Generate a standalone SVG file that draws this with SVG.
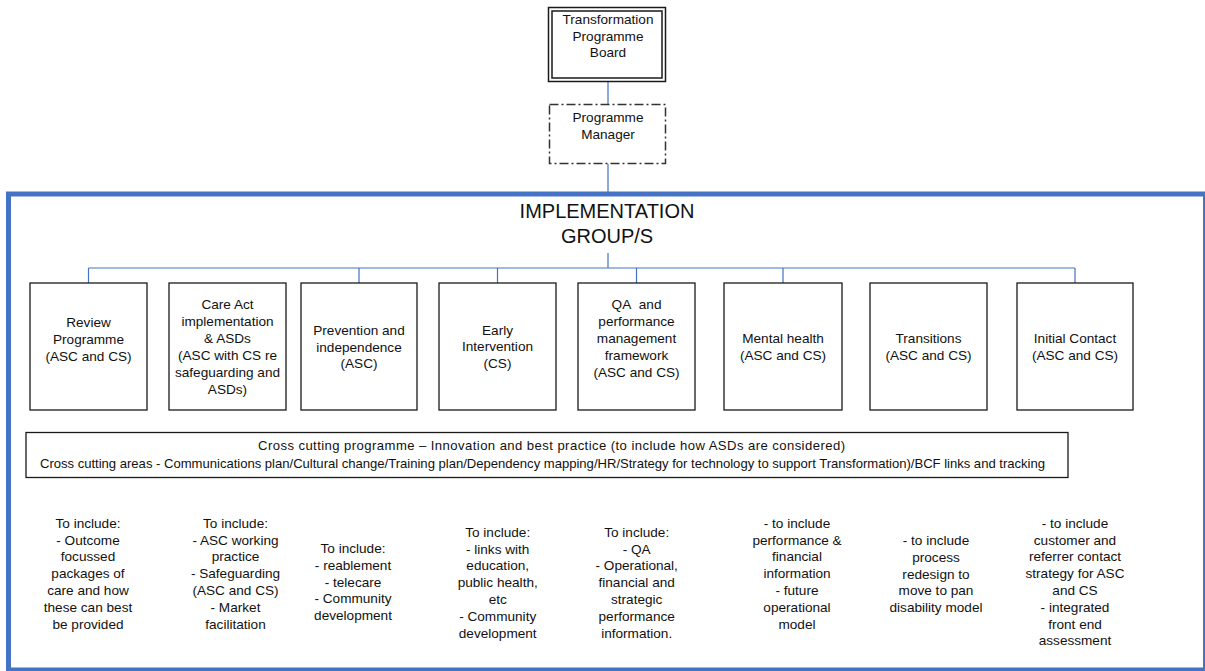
<svg xmlns="http://www.w3.org/2000/svg" width="1205" height="671" viewBox="0 0 1205 671">
<style>
text{font-family:"Liberation Sans",Arial,sans-serif;font-size:13.6px;fill:#111;text-anchor:middle}
.big{font-size:20px}
.cc{font-size:13.1px}
.box{fill:#fff;stroke:#1a1a1a;stroke-width:1.3}
.conn{fill:none;stroke:#4472C4;stroke-width:1.2}
</style>
<rect width="1205" height="671" fill="#fff"/>
<g id="frame">
<rect x="8.5" y="194" width="1197" height="476" fill="none" stroke="#4472C4" stroke-width="5"/>
</g>
<g id="connectors">
<path class="conn" d="M608 82V104M608 164V192"/>
<path class="conn" d="M608 253V268M88.5 268H1075M88.5 268V283M359 268V283M497.5 268V283M636.5 268V283M783 268V283M1075 268V283"/>
</g>
<g id="board">
<rect x="548.5" y="7.5" width="117" height="74" fill="#fff" stroke="#1a1a1a" stroke-width="1.5"/>
<rect x="552" y="11" width="110" height="67" fill="none" stroke="#1a1a1a" stroke-width="1.5"/>
<text x="608" y="24">Transformation</text>
<text x="608" y="40.7">Programme</text>
<text x="608" y="57.3">Board</text>
</g>
<g id="manager">
<rect x="549.5" y="104.5" width="116" height="59" fill="#fff" stroke="#333" stroke-width="1.5" stroke-dasharray="9,3,2,3"/>
<text x="608" y="122.3">Programme</text>
<text x="608" y="139.3">Manager</text>
</g>
<g id="implementation-title">
<text class="big" x="607" y="218">IMPLEMENTATION</text>
<text class="big" x="607" y="243">GROUP/S</text>
</g>
<g id="review">
<rect class="box" x="30" y="283" width="117" height="127"/>
<text x="88.5" y="326.7">Review</text>
<text x="88.5" y="343.5">Programme</text>
<text x="88.5" y="360.5">(ASC and CS)</text>
</g>
<g id="care-act">
<rect class="box" x="169" y="283" width="117" height="127"/>
<text x="227.5" y="309.3">Care Act</text>
<text x="227.5" y="326">implementation</text>
<text x="227.5" y="343">&amp; ASDs</text>
<text x="227.5" y="360">(ASC with CS re</text>
<text x="227.5" y="377">safeguarding and</text>
<text x="227.5" y="394">ASDs)</text>
</g>
<g id="prevention">
<rect class="box" x="301" y="283" width="116" height="127"/>
<text x="359" y="335">Prevention and</text>
<text x="359" y="351.7">independence</text>
<text x="359" y="368.3">(ASC)</text>
</g>
<g id="early-intervention">
<rect class="box" x="439" y="283" width="117" height="127"/>
<text x="497.5" y="334.5">Early</text>
<text x="497.5" y="351">Intervention</text>
<text x="497.5" y="368">(CS)</text>
</g>
<g id="qa">
<rect class="box" x="578" y="283" width="117" height="127"/>
<text x="636.5" y="309">QA&#160; and</text>
<text x="636.5" y="326">performance</text>
<text x="636.5" y="343">management</text>
<text x="636.5" y="360">framework</text>
<text x="636.5" y="377">(ASC and CS)</text>
</g>
<g id="mental-health">
<rect class="box" x="724" y="283" width="118" height="127"/>
<text x="783" y="343.3">Mental health</text>
<text x="783" y="360">(ASC and CS)</text>
</g>
<g id="transitions">
<rect class="box" x="870" y="283" width="117" height="127"/>
<text x="928.5" y="343.3">Transitions</text>
<text x="928.5" y="360">(ASC and CS)</text>
</g>
<g id="initial-contact">
<rect class="box" x="1017" y="283" width="116" height="127"/>
<text x="1075" y="343.3">Initial Contact</text>
<text x="1075" y="360">(ASC and CS)</text>
</g>
<g id="cross-cutting">
<rect class="box" x="26" y="432.5" width="1042" height="45"/>
<text class="cc" x="551.5" y="449.5" textLength="587" lengthAdjust="spacing">Cross cutting programme – Innovation and best practice (to include how ASDs are considered)</text>
<text class="cc" x="542.5" y="468" textLength="1005" lengthAdjust="spacing">Cross cutting areas - Communications plan/Cultural change/Training plan/Dependency mapping/HR/Strategy for technology to support Transformation)/BCF links and tracking</text>
</g>
<g id="notes">
<text x="88" y="527.7">To include:</text>
<text x="88" y="544.5">- Outcome</text>
<text x="88" y="561.3">focussed</text>
<text x="88" y="578.2">packages of</text>
<text x="88" y="595">care and how</text>
<text x="88" y="611.8">these can best</text>
<text x="88" y="628.6">be provided</text>

<text x="235.5" y="527.7">To include:</text>
<text x="235.5" y="544.5">- ASC working</text>
<text x="235.5" y="561.3">practice</text>
<text x="235.5" y="578.2">- Safeguarding</text>
<text x="235.5" y="595">(ASC and CS)</text>
<text x="235.5" y="611.8">- Market</text>
<text x="235.5" y="628.6">facilitation</text>

<text x="353" y="553.3">To include:</text>
<text x="353" y="570">- reablement</text>
<text x="353" y="586.7">- telecare</text>
<text x="353" y="603.3">- Community</text>
<text x="353" y="620">development</text>

<text x="497.7" y="536.7">To include:</text>
<text x="497.7" y="553.5">- links with</text>
<text x="497.7" y="570.3">education,</text>
<text x="497.7" y="587.1">public health,</text>
<text x="497.7" y="603.9">etc</text>
<text x="497.7" y="620.7">- Community</text>
<text x="497.7" y="637.5">development</text>

<text x="636.7" y="536.7">To include:</text>
<text x="636.7" y="553.5">- QA</text>
<text x="636.7" y="570.3">- Operational,</text>
<text x="636.7" y="587.1">financial and</text>
<text x="636.7" y="603.9">strategic</text>
<text x="636.7" y="620.7">performance</text>
<text x="636.7" y="637.5">information.</text>

<text x="797" y="527.7">- to include</text>
<text x="797" y="544.5">performance &amp;</text>
<text x="797" y="561.3">financial</text>
<text x="797" y="578.2">information</text>
<text x="797" y="595">- future</text>
<text x="797" y="611.8">operational</text>
<text x="797" y="628.6">model</text>

<text x="936" y="545">- to include</text>
<text x="936" y="561.8">process</text>
<text x="936" y="578.6">redesign to</text>
<text x="936" y="595.4">move to pan</text>
<text x="936" y="612.2">disability model</text>

<text x="1075" y="527.7">- to include</text>
<text x="1075" y="544.5">customer and</text>
<text x="1075" y="561.3">referrer contact</text>
<text x="1075" y="578.2">strategy for ASC</text>
<text x="1075" y="595">and CS</text>
<text x="1075" y="611.8">- integrated</text>
<text x="1075" y="628.6">front end</text>
<text x="1075" y="645.4">assessment</text>
</g>
</svg>
